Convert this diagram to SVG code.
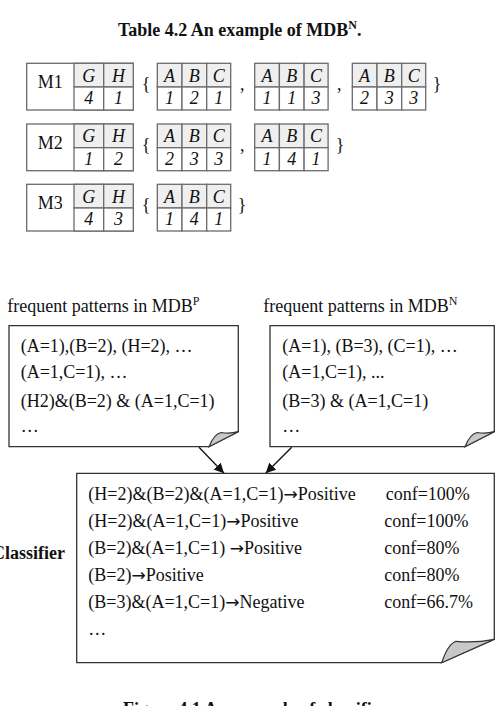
<svg xmlns="http://www.w3.org/2000/svg" width="497" height="706" viewBox="0 0 497 706">
<defs>
<style>
text{font-family:"Liberation Serif","Times New Roman",serif;fill:#111;}
.t{font-size:18px;}
.b{font-weight:bold;}
.i{font-style:italic;font-size:18px;}
.c{text-anchor:middle;}
.sup{font-size:12px;}
.ar{font-family:"DejaVu Sans",sans-serif;font-size:17px;}
.cell{fill:#fff;stroke:#6b6b6b;stroke-width:1.3;}
.hd{fill:#efefef;stroke:#6b6b6b;stroke-width:1.3;}
.note{fill:#fff;stroke:#333;stroke-width:1.3;}
.curl{fill:#c8c8c8;stroke:#333;stroke-width:1.2;}
.arr{stroke:#111;stroke-width:1.3;fill:none;marker-end:url(#ah);}
</style>
<marker id="ah" viewBox="0 0 10 10" refX="10" refY="5" markerWidth="10" markerHeight="10" markerUnits="userSpaceOnUse" orient="auto">
<path d="M0,0 L10,5 L0,10 z" fill="#111"/>
</marker>
<g id="gh">
<rect class="cell" x="0" y="0" width="106.6" height="46.7"/>
<rect class="hd" x="47.3" y="0" width="29.7" height="23.7"/>
<rect class="hd" x="77" y="0" width="29.6" height="23.7"/>
<rect class="cell" x="47.3" y="23.7" width="29.7" height="23"/>
<rect class="cell" x="77" y="23.7" width="29.6" height="23"/>
<text class="i c" x="62.1" y="18.4">G</text>
<text class="i c" x="91.8" y="18.4">H</text>
</g>
<g id="abc">
<rect class="hd" x="0" y="0" width="24.7" height="23.7"/>
<rect class="hd" x="24.7" y="0" width="24.7" height="23.7"/>
<rect class="hd" x="49.4" y="0" width="24" height="23.7"/>
<rect class="cell" x="0" y="23.7" width="24.7" height="23"/>
<rect class="cell" x="24.7" y="23.7" width="24.7" height="23"/>
<rect class="cell" x="49.4" y="23.7" width="24" height="23"/>
<text class="i c" x="12.3" y="18.4">A</text>
<text class="i c" x="37" y="18.4">B</text>
<text class="i c" x="61.4" y="18.4">C</text>
</g>
</defs>
<rect width="497" height="706" fill="#fff"/>

<g id="title">
<text class="t b" x="118" y="36">Table 4.2 An example of MDB<tspan class="sup" dy="-7">N</tspan><tspan dy="7">.</tspan></text>
</g>

<g id="m1" transform="translate(26.7,63.3)">
<use href="#gh"/>
<text class="t c" x="23.6" y="25">M1</text>
<text class="i c" x="62.1" y="41">4</text>
<text class="i c" x="91.8" y="41">1</text>
<text class="t c" x="119.5" y="27">{</text>
<g transform="translate(130.6,0)"><use href="#abc"/>
<text class="i c" x="12.3" y="41">1</text><text class="i c" x="37" y="41">2</text><text class="i c" x="61.4" y="41">1</text></g>
<text class="t c" x="215.5" y="27">,</text>
<g transform="translate(228,0)"><use href="#abc"/>
<text class="i c" x="12.3" y="41">1</text><text class="i c" x="37" y="41">1</text><text class="i c" x="61.4" y="41">3</text></g>
<text class="t c" x="312.5" y="27">,</text>
<g transform="translate(325.6,0)"><use href="#abc"/>
<text class="i c" x="12.3" y="41">2</text><text class="i c" x="37" y="41">3</text><text class="i c" x="61.4" y="41">3</text></g>
<text class="t c" x="410.5" y="27">}</text>
</g>

<g id="m2" transform="translate(26.7,124)">
<use href="#gh"/>
<text class="t c" x="23.6" y="25">M2</text>
<text class="i c" x="62.1" y="41">1</text>
<text class="i c" x="91.8" y="41">2</text>
<text class="t c" x="119.5" y="27">{</text>
<g transform="translate(130.6,0)"><use href="#abc"/>
<text class="i c" x="12.3" y="41">2</text><text class="i c" x="37" y="41">3</text><text class="i c" x="61.4" y="41">3</text></g>
<text class="t c" x="215.5" y="27">,</text>
<g transform="translate(228,0)"><use href="#abc"/>
<text class="i c" x="12.3" y="41">1</text><text class="i c" x="37" y="41">4</text><text class="i c" x="61.4" y="41">1</text></g>
<text class="t c" x="313.5" y="27">}</text>
</g>

<g id="m3" transform="translate(26.7,184.3)">
<use href="#gh"/>
<text class="t c" x="23.6" y="25">M3</text>
<text class="i c" x="62.1" y="41">4</text>
<text class="i c" x="91.8" y="41">3</text>
<text class="t c" x="119.5" y="27">{</text>
<g transform="translate(130.6,0)"><use href="#abc"/>
<text class="i c" x="12.3" y="41">1</text><text class="i c" x="37" y="41">4</text><text class="i c" x="61.4" y="41">1</text></g>
<text class="t c" x="215.5" y="27">}</text>
</g>

<g id="posPatterns">
<text class="t" x="7.3" y="311.7">frequent patterns in MDB<tspan class="sup" dy="-7">P</tspan></text>
<path class="note" d="M9,325.7 H238.3 V431.7 L209,446.7 H9 Z"/>
<path class="curl" d="M209,446.7 Q214,434 221,432.5 Q230,434 238.3,431.7 Z"/>
<text class="t" x="20.7" y="351.7">(A=1),(B=2), (H=2), …</text>
<text class="t" x="20.7" y="378.3">(A=1,C=1), …</text>
<text class="t" x="20.7" y="406.7">(H2)&amp;(B=2) &amp; (A=1,C=1)</text>
<text class="t" x="20.7" y="432">…</text>
</g>

<g id="negPatterns">
<text class="t" x="263.3" y="311.7">frequent patterns in MDB<tspan class="sup" dy="-7">N</tspan></text>
<path class="note" d="M270,325.7 H494.3 V431.7 L465,446.7 H270 Z"/>
<path class="curl" d="M465,446.7 Q470,434 477,432.5 Q486,434 494.3,431.7 Z"/>
<text class="t" x="282.3" y="351.7">(A=1), (B=3), (C=1), …</text>
<text class="t" x="282.3" y="378.3">(A=1,C=1), ...</text>
<text class="t" x="282.3" y="406.7">(B=3) &amp; (A=1,C=1)</text>
<text class="t" x="282.3" y="432">…</text>
</g>

<g id="connectors">
<line class="arr" x1="199" y1="447.3" x2="224" y2="473.3"/>
<line class="arr" x1="291.7" y1="447.3" x2="265.7" y2="473.3"/>
</g>

<g id="classifier">
<text class="t b" x="65" y="559.3" text-anchor="end">Classifier</text>
<path class="note" d="M76.7,473.3 H494.3 V639.3 L441.7,662.7 H76.7 Z"/>
<path class="curl" d="M441.7,662.7 Q448,644 456,641.3 Q475,643 494.3,639.3 Z"/>
<text class="t" x="88.3" y="500">(H=2)&amp;(B=2)&amp;(A=1,C=1)<tspan class="ar">→</tspan>Positive</text>
<text class="t" x="385.7" y="500">conf=100%</text>
<text class="t" x="88.3" y="527.3">(H=2)&amp;(A=1,C=1)<tspan class="ar">→</tspan>Positive</text>
<text class="t" x="384.3" y="527.3">conf=100%</text>
<text class="t" x="88.3" y="554.3">(B=2)&amp;(A=1,C=1) <tspan class="ar">→</tspan>Positive</text>
<text class="t" x="384.3" y="554.3">conf=80%</text>
<text class="t" x="88.3" y="581">(B=2)<tspan class="ar">→</tspan>Positive</text>
<text class="t" x="384.3" y="581">conf=80%</text>
<text class="t" x="88.3" y="607.7">(B=3)&amp;(A=1,C=1)<tspan class="ar">→</tspan>Negative</text>
<text class="t" x="384.3" y="607.7">conf=66.7%</text>
<text class="t" x="88.3" y="635">…</text>
</g>

<g id="caption">
<text class="t b" x="123" y="715">Figure 4.1 An example of classifier</text>
</g>
</svg>
